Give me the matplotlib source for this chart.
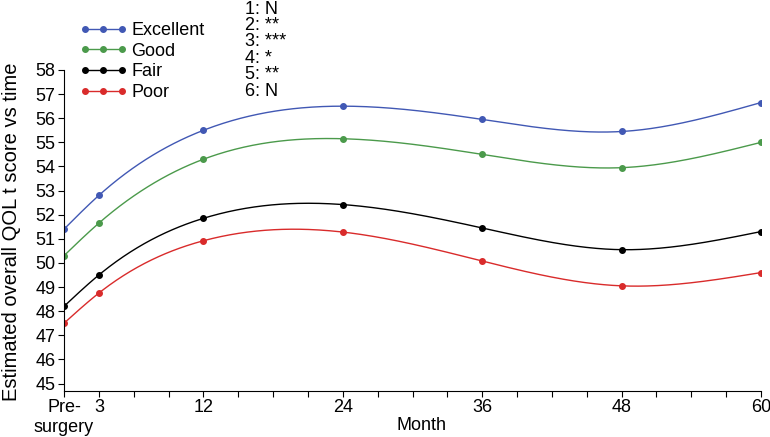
import numpy as np
import matplotlib
matplotlib.use('Agg')
import matplotlib.pyplot as plt

plt.rcParams['font.family'] = ['Liberation Sans', 'DejaVu Sans']

# Data
months = [0, 3, 12, 24, 36, 48, 60]
excellent = [51.4, 52.8, 55.5, 56.5, 55.95, 55.45, 56.65]
good = [50.3, 51.65, 54.3, 55.15, 54.5, 53.95, 55.0]
fair = [48.2, 49.5, 51.85, 52.42, 51.45, 50.55, 51.3]
poor = [47.5, 48.75, 50.92, 51.28, 50.08, 49.05, 49.6]

series = [('Excellent', excellent, '#4158b4'),
          ('Good', good, '#4b9a4b'),
          ('Fair', fair, '#000000'),
          ('Poor', poor, '#d92b2b')]

tick_months = list(range(0, 61, 3))
labelled = {0: 'Pre-\nsurgery', 3: '3', 12: '12', 24: '24', 36: '36', 48: '48', 60: '60'}
notes = ['1: N', '2: **', '3: ***', '4: *', '5: **', '6: N']


def natural_spline(x, y, xs):
    """Natural cubic spline through the points (x, y), evaluated at xs"""
    x = np.asarray(x, float)
    y = np.asarray(y, float)
    n = len(x)
    h = np.diff(x)
    A = np.zeros((n, n))
    b = np.zeros(n)
    A[0, 0] = 1
    A[-1, -1] = 1
    for i in range(1, n - 1):
        A[i, i - 1] = h[i - 1]
        A[i, i] = 2 * (h[i - 1] + h[i])
        A[i, i + 1] = h[i]
        b[i] = 3 * ((y[i + 1] - y[i]) / h[i] - (y[i] - y[i - 1]) / h[i - 1])
    c = np.linalg.solve(A, b)
    out = np.empty_like(xs)
    for k, xv in enumerate(xs):
        i = min(np.searchsorted(x, xv, side='right') - 1, n - 2)
        i = max(i, 0)
        dx = xv - x[i]
        bi = (y[i + 1] - y[i]) / h[i] - h[i] * (2 * c[i] + c[i + 1]) / 3
        di = (c[i + 1] - c[i]) / (3 * h[i])
        out[k] = y[i] + bi * dx + c[i] * dx ** 2 + di * dx ** 3
    return out


fig = plt.figure(figsize=(7.7, 4.37), dpi=100)
ax = fig.add_axes([64 / 770, 1 - 391 / 437, (761 - 64) / 770, (391 - 70) / 437])

xs = np.linspace(0, 60, 400)
handles = []
for name, vals, col in series:
    ax.plot(xs, natural_spline(months, vals, xs), color=col, lw=1.0)
    ax.plot(months, vals, 'o', color=col, ms=4)
    # legend proxy
    h, = ax.plot([], [], '-o', color=col, ms=4, lw=1.0, label=name)
    handles.append(h)

ax.set_xlim(0, 60)
ax.set_ylim(44.69, 58)
ax.set_yticks(range(45, 59))
ax.set_xticks(tick_months)
ax.set_xticklabels([labelled.get(m, '') for m in tick_months])
ax.tick_params(axis='both', labelsize=13, length=4, width=0.8, direction='out', pad=2)
for side in ['top', 'right']:
    ax.spines[side].set_visible(False)
ax.spines['left'].set_linewidth(0.8)
ax.spines['bottom'].set_linewidth(0.8)

fig.text(422 / 770, 1 - 426 / 437, 'Month', fontsize=13, ha='center', va='center')
fig.text(12 / 770, 1 - 232 / 437, 'Estimated overall QOL t score vs time',
         fontsize=14.5, rotation=90, ha='center', va='center')

fig.legend(handles, [h.get_label() for h in handles], loc='upper left',
           bbox_to_anchor=(80 / 770, 1 - 22 / 437), frameon=False,
           fontsize=13, numpoints=3, handlelength=2.6, handletextpad=0.25,
           labelspacing=0.2, borderpad=0, borderaxespad=0)

for i, t in enumerate(notes):
    fig.text(245 / 770, 1 - (9 + 16.4 * i) / 437, t, fontsize=13, va='center', ha='left')

fig.savefig('out.png', dpi=100)
